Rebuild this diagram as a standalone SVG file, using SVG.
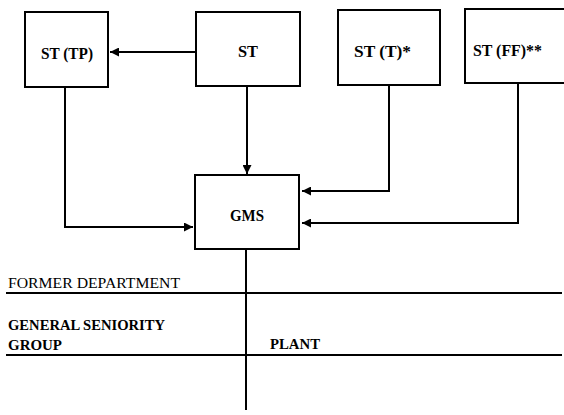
<svg xmlns="http://www.w3.org/2000/svg" width="564" height="415" viewBox="0 0 564 415">
<style>
.box{fill:#fff;stroke:#000;stroke-width:2}
text{fill:#000;font-family:'Liberation Serif','Times New Roman',serif}
.lbl{font-size:16px;font-weight:bold}
.reg{font-size:15px}
.ln{fill:none;stroke:#000;stroke-width:2}
</style>
<defs>
<marker id="ah" viewBox="0 0 10 10" refX="10" refY="5" markerWidth="9" markerHeight="9" markerUnits="userSpaceOnUse" orient="auto">
<path d="M0,0 L10,5 L0,10 z" fill="#000"/>
</marker>
</defs>
<rect width="564" height="415" fill="#fff"/>
<g id="connectors">
<path class="ln" d="M196,52 H110" marker-end="url(#ah)"/>
<path class="ln" d="M65,87 V227 H193" marker-end="url(#ah)"/>
<path class="ln" d="M247,86 V174" marker-end="url(#ah)"/>
<path class="ln" d="M389,85 V191 H302" marker-end="url(#ah)"/>
<path class="ln" d="M518,83 V223 H302" marker-end="url(#ah)"/>
<path class="ln" d="M246,249 V410"/>
<path class="ln" d="M6,293 H562"/>
<path class="ln" d="M6,355 H562"/>
</g>
<g id="st-tp">
<rect class="box" x="25" y="12" width="83" height="75"/>
<text class="lbl" x="41" y="59" textLength="52" lengthAdjust="spacingAndGlyphs">ST (TP)</text>
</g>
<g id="st">
<rect class="box" x="196" y="12" width="104" height="74"/>
<text class="lbl" x="238" y="57" textLength="20" lengthAdjust="spacingAndGlyphs">ST</text>
</g>
<g id="st-t">
<rect class="box" x="338" y="10" width="102" height="75"/>
<text class="lbl" x="354" y="57" textLength="57" lengthAdjust="spacingAndGlyphs">ST (T)*</text>
</g>
<g id="st-ff">
<rect class="box" x="465" y="9" width="104" height="74"/>
<text class="lbl" x="473" y="56" textLength="69" lengthAdjust="spacingAndGlyphs">ST (FF)**</text>
</g>
<g id="gms">
<rect class="box" x="195" y="175" width="104" height="74"/>
<text class="lbl" x="230" y="221" textLength="34" lengthAdjust="spacingAndGlyphs">GMS</text>
</g>
<g id="labels">
<text class="reg" x="8" y="288" textLength="172" lengthAdjust="spacingAndGlyphs">FORMER DEPARTMENT</text>
<text class="reg" x="8" y="330" font-weight="bold" textLength="157" lengthAdjust="spacingAndGlyphs">GENERAL SENIORITY</text>
<text class="reg" x="8" y="350" font-weight="bold" textLength="54" lengthAdjust="spacingAndGlyphs">GROUP</text>
<text class="reg" x="270" y="349" font-weight="bold" textLength="50" lengthAdjust="spacingAndGlyphs">PLANT</text>
</g>
</svg>
